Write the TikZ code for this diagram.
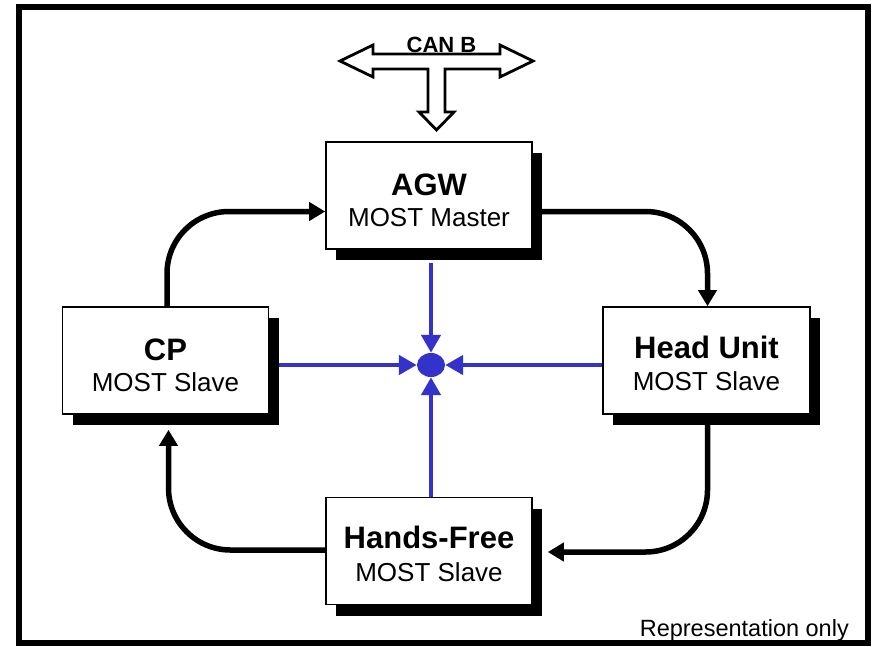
\documentclass[tikz,border=0pt]{standalone}
\usepackage{fontspec}
\setmainfont{Liberation Sans}
\usetikzlibrary{arrows.meta,shapes.geometric,shadows,backgrounds}
\definecolor{busblue}{RGB}{51,51,204}
\begin{document}
\begin{tikzpicture}[x=1pt,y=-1pt,
  unitbox/.style={draw=black,line width=1.6pt,fill=white,rectangle,
    minimum width=206pt,minimum height=107pt,inner sep=0pt,
    drop shadow={shadow xshift=10pt,shadow yshift=-11pt,opacity=1,fill=black}},
  unitname/.style={anchor=base,font=\fontsize{31}{31}\selectfont\bfseries,inner sep=0pt},
  unitrole/.style={anchor=base,font=\fontsize{26}{26}\selectfont,inner sep=0pt},
  ring/.style={line width=5.5pt,-{Triangle[length=16pt,width=18pt]},rounded corners=62pt},
  busline/.style={line width=4.5pt,busblue,-{Triangle[length=18pt,width=19pt]}},
  blockarrow/.style={draw=black,line width=2.8pt,fill=white,line join=miter}]
\useasboundingbox (0,0) rectangle (877,646);
% outer frame
\draw[line width=6pt] (19,7) rectangle (868,643);

% units
\node[unitbox] (agw) at (429,195.5) {};
\node[unitbox] (cp) at (165.5,360.5) {};
\node[unitbox,minimum width=207pt] (hu) at (706.5,360.5) {};
\node[unitbox] (hf) at (429,551) {};

\node[unitname] (agw-n) at (agw.center) {AGW};
\node[unitrole] (agw-r) at ([yshift=-31pt]agw.center) {MOST Master};
\node[unitname] (cp-n) at (cp.center) {CP};
\node[unitrole] (cp-r) at ([yshift=-31pt]cp.center) {MOST Slave};
\node[unitname] (hu-n) at ([yshift=2pt]hu.center) {Head Unit};
\node[unitrole] (hu-r) at ([yshift=-30pt]hu.center) {MOST Slave};
\node[unitname] (hf-n) at ([yshift=3pt]hf.center) {Hands-Free};
\node[unitrole] (hf-r) at ([yshift=-30pt]hf.center) {MOST Slave};

% central star point
\node[ellipse,fill=busblue,minimum width=28pt,minimum height=24pt,inner sep=0pt] (hub) at (431,365) {};

% MOST ring
\begin{scope}[on background layer]
  \draw[ring] ([xshift=1.5pt]cp.north) |- ([yshift=-16pt]agw.west);
  \draw[ring] ([yshift=-16pt]agw.east) -| ([xshift=1pt]hu.north);
  \draw[ring] ([xshift=1pt]hu.south) |- ([xshift=15pt,yshift=-1pt]hf.east);
  \draw[ring] ([yshift=1pt]hf.west) -| ([xshift=3pt,yshift=-15pt]cp.south);
\end{scope}

% star connections to the central point
\draw[busline] ([xshift=2pt,yshift=-13pt]agw.south) -- (hub.north);
\draw[busline] (cp.east |- hub) ++(10pt,0) -- (hub.west);
\draw[busline] (hu.west |- hub) -- (hub.east);
\draw[busline] ([xshift=2pt]hf.north) -- (hub.south);

% CAN B bus connection
\draw[blockarrow] (340,61) -- (373,45) -- (373,54) -- (500,54) -- (500,45)
  -- (533,61) -- (500,77) -- (500,69) -- (445,69) -- (445,112) -- (454,112)
  -- (436.5,130) -- (419,112) -- (428,112) -- (428,69) -- (373,69) -- (373,77) -- cycle;
\node[anchor=base,font=\fontsize{22}{22}\selectfont\bfseries,inner sep=0pt] (canb) at (441.5,52) {CAN B};

\node[anchor=base east,font=\fontsize{23.5}{23.5}\selectfont,inner sep=0pt] (note) at (849,636) {Representation only};
\end{tikzpicture}
\end{document}
